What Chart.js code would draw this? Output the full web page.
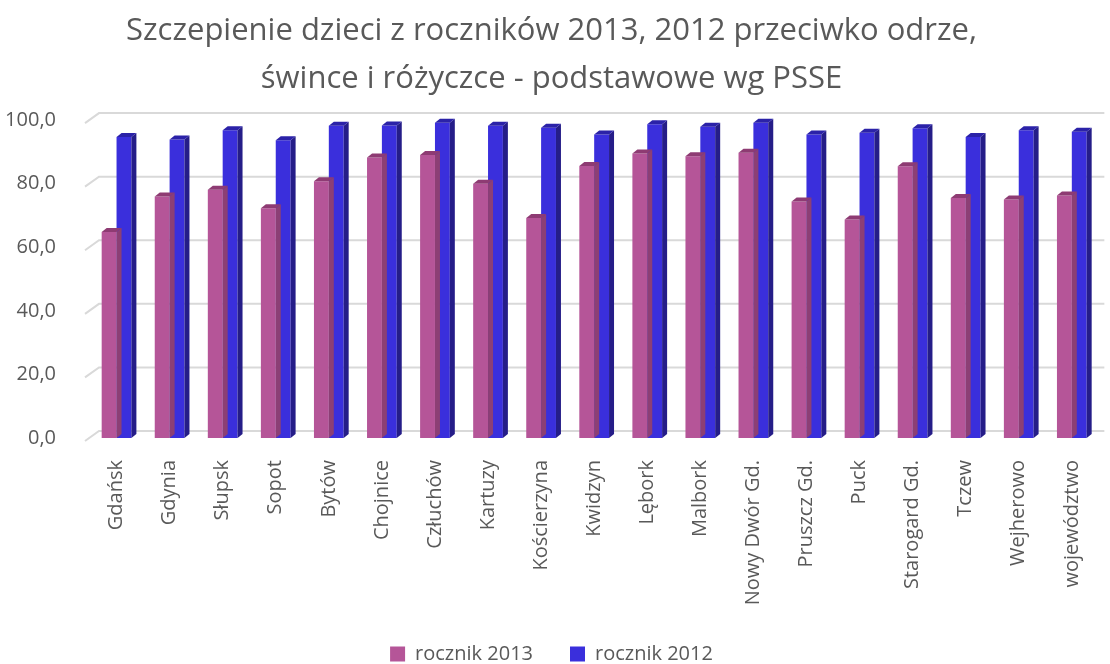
<!DOCTYPE html>
<html lang="pl">
  <head>
    <meta charset="UTF-8" />
    <title>Szczepienie dzieci - odra, świnka, różyczka</title>
    <script src="https://cdn.jsdelivr.net/npm/chart.js"></script>
    <style>
      html,
      body {
        margin: 0;
        background: #fff;
      }
      .chart-box {
        width: 1110px;
        height: 664px;
      }
    </style>
  </head>
  <body>
    <div class="chart-box">
      <canvas id="vaccChart"></canvas>
    </div>

    <script>
      const districts = [
        "Gdańsk",
        "Gdynia",
        "Słupsk",
        "Sopot",
        "Bytów",
        "Chojnice",
        "Człuchów",
        "Kartuzy",
        "Kościerzyna",
        "Kwidzyn",
        "Lębork",
        "Malbork",
        "Nowy Dwór Gd.",
        "Pruszcz Gd.",
        "Puck",
        "Starogard Gd.",
        "Tczew",
        "Wejherowo",
        "województwo",
      ];
      const rocznik2013 = [
        64.8, 76.0, 78.1, 72.3, 80.8, 88.2, 89.0, 80.0, 69.2, 85.6, 89.5, 88.6,
        89.7, 74.4, 68.7, 85.5, 75.5, 75.0, 76.3,
      ];
      const rocznik2012 = [
        94.7, 93.9, 96.8, 93.7, 98.2, 98.3, 99.2, 98.2, 97.6, 95.5, 98.7, 97.9,
        99.2, 95.5, 96.0, 97.4, 94.7, 96.8, 96.3,
      ];
      const yTicks = [0, 20, 40, 60, 80, 100];

      const TEXT = "#595959";
      const FONT = "'Open Sans', 'DejaVu Sans', sans-serif";
      const DEPTH_X = 5;
      const DEPTH_Y = 4;

      // back wall grid with the short slanted floor edge on the left
      const wallGrid = {
        id: "wallGrid",
        beforeDatasetsDraw(chart) {
          const { ctx, chartArea, scales } = chart;
          ctx.save();
          ctx.strokeStyle = "#d9d9d9";
          ctx.lineWidth = 2;
          yTicks.forEach((v) => {
            const yf = scales.y.getPixelForValue(v);
            ctx.beginPath();
            ctx.moveTo(chartArea.left - 5, yf + 3);
            ctx.lineTo(chartArea.left + 9, yf - 7);
            ctx.lineTo(chartArea.right + 6, yf - 7);
            ctx.stroke();
          });
          ctx.restore();
        },
      };

      // side and top faces give the columns their depth
      const columnDepth = {
        id: "columnDepth",
        afterDatasetDraw(chart, args) {
          const { ctx } = chart;
          const ds = chart.data.datasets[args.index];
          ctx.save();
          args.meta.data.forEach((bar) => {
            const { x, y, base, width } = bar.getProps(
              ["x", "y", "base", "width"],
              true
            );
            const l = x - width / 2;
            const r = x + width / 2;
            ctx.fillStyle = ds.sideColor;
            ctx.beginPath();
            ctx.moveTo(r, y);
            ctx.lineTo(r + DEPTH_X, y - DEPTH_Y);
            ctx.lineTo(r + DEPTH_X, base - DEPTH_Y);
            ctx.lineTo(r, base);
            ctx.closePath();
            ctx.fill();
            ctx.fillStyle = ds.topColor;
            ctx.beginPath();
            ctx.moveTo(l, y);
            ctx.lineTo(l + DEPTH_X, y - DEPTH_Y);
            ctx.lineTo(r + DEPTH_X, y - DEPTH_Y);
            ctx.lineTo(r, y);
            ctx.closePath();
            ctx.fill();
          });
          ctx.restore();
        },
      };

      new Chart(document.getElementById("vaccChart"), {
        type: "bar",
        data: {
          labels: districts,
          datasets: [
            {
              label: "rocznik 2013",
              data: rocznik2013,
              backgroundColor: "#b55598",
              sideColor: "#8c3f75",
              topColor: "#8e3b73",
            },
            {
              label: "rocznik 2012",
              data: rocznik2012,
              backgroundColor: "#3a2fdc",
              sideColor: "#251d88",
              topColor: "#2b22a8",
            },
          ],
        },
        options: {
          responsive: true,
          maintainAspectRatio: false,
          animation: false,
          datasets: {
            bar: { barPercentage: 1, categoryPercentage: 0.56 },
          },
          layout: { padding: { left: 0, right: 7, top: 7, bottom: -10 } },
          plugins: {
            title: {
              display: true,
              text: [
                "Szczepienie dzieci z roczników 2013, 2012 przeciwko odrze,",
                "śwince i różyczce - podstawowe wg PSSE",
              ],
              color: TEXT,
              font: { family: FONT, size: 31, weight: "normal", lineHeight: 1.55 },
              padding: { top: 0, bottom: 17 },
            },
            legend: {
              position: "bottom",
              labels: {
                color: TEXT,
                font: { family: FONT, size: 20 },
                boxWidth: 15,
                boxHeight: 15,
                padding: 37,
              },
            },
            tooltip: { enabled: false },
          },
          scales: {
            x: {
              afterFit(scale) {
                scale.height = 169;
              },
              grid: { display: false },
              border: { display: false },
              ticks: {
                color: TEXT,
                font: { family: FONT, size: 20 },
                minRotation: 90,
                maxRotation: 90,
                autoSkip: false,
                padding: 14,
              },
            },
            y: {
              min: 0,
              max: 100,
              afterFit(scale) {
                scale.width = 90;
              },
              grid: { display: false },
              border: { display: false },
              ticks: {
                stepSize: 20,
                color: TEXT,
                padding: 26,
                font: { family: FONT, size: 20 },
                callback: (v) => v.toFixed(1).replace(".", ","),
              },
            },
          },
        },
        plugins: [wallGrid, columnDepth],
      });
    </script>
  </body>
</html>
